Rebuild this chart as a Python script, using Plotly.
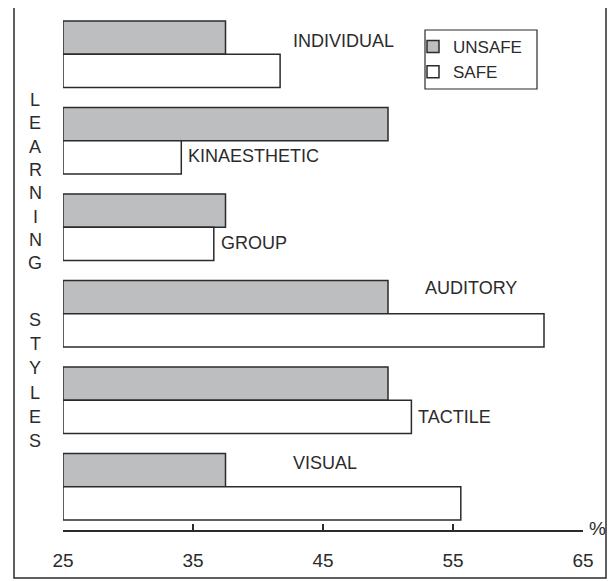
import plotly.graph_objects as go

# ---- data ----
categories = ["INDIVIDUAL", "KINAESTHETIC", "GROUP", "AUDITORY", "TACTILE", "VISUAL"]
unsafe = [37.5, 50.0, 37.5, 50.0, 50.0, 37.5]
safe = [41.7, 34.1, 36.6, 62.0, 51.8, 55.6]
x_ticks = [25, 35, 45, 55, 65]
axis_title_letters = list("LEARNING STYLES")

# ---- layout geometry (page pixels; the page body adds an 8px margin) ----
OFF = 8
PAGE_W, PAGE_H = 616, 581
W, H = PAGE_W - OFF, PAGE_H - OFF
PLOT_L, PLOT_R, PLOT_T, PLOT_B = 63, 583, 11, 530   # page pixel edges of the plot area
ML, MT = PLOT_L - OFF, PLOT_T - OFF
MR, MB = W - (PLOT_R - OFF), H - (PLOT_B - OFF)
PW, PH = PLOT_R - PLOT_L, PLOT_B - PLOT_T
X0, X1 = 25, 65
FONT = "Liberation Sans, Arial, sans-serif"
INK = "#2b2b2b"


def px(xp):
    return (xp - PLOT_L) / PW


def py(yp):
    return (PLOT_B - yp) / PH


fig = go.Figure()
fig.add_trace(go.Bar(
    y=categories, x=[v - X0 for v in unsafe], base=X0, orientation="h",
    name="UNSAFE", marker=dict(color="#bdbec0", line=dict(color=INK, width=1.5)),
))
fig.add_trace(go.Bar(
    y=categories, x=[v - X0 for v in safe], base=X0, orientation="h",
    name="SAFE", marker=dict(color="#ffffff", line=dict(color=INK, width=1.5)),
))

# category labels (x position in data units, pixel shift from group centre)
label_pos = {
    "INDIVIDUAL": (42.5, 0, 13),
    "KINAESTHETIC": (safe[1], 5, -15.5),
    "GROUP": (safe[2], 5, -15.5),
    "AUDITORY": (52.7, 0, 26),
    "TACTILE": (safe[4], 5, -16.5),
    "VISUAL": (42.5, 0, 24),
}
annotations = []
for cat in categories:
    xv, xs, ys = label_pos[cat]
    annotations.append(dict(
        x=xv, y=cat, xref="x", yref="y", text=cat, showarrow=False,
        xanchor="left", yanchor="middle", xshift=xs, yshift=ys,
        font=dict(family=FONT, size=18, color=INK),
    ))

# vertical axis title, one letter per line
for i, ch in enumerate(axis_title_letters):
    if ch == " ":
        continue
    if i < 8:
        yp = 100 + i * 23.3
    else:
        yp = 320 + (i - 9) * 24.2
    annotations.append(dict(
        x=px(35), y=py(yp), xref="paper", yref="paper", text=ch, showarrow=False,
        xanchor="center", yanchor="middle",
        font=dict(family=FONT, size=18, color=INK),
    ))

annotations.append(dict(
    x=px(597), y=py(528), xref="paper", yref="paper", text="%", showarrow=False,
    xanchor="center", yanchor="middle", font=dict(family=FONT, size=19, color=INK),
))

fig.update_layout(
    width=W, height=H,
    margin=dict(l=ML, r=MR, t=MT, b=MB, pad=0),
    paper_bgcolor="white", plot_bgcolor="white",
    barmode="group", bargap=0.23, bargroupgap=0,
    font=dict(family=FONT, color=INK),
    showlegend=True,
    legend=dict(
        x=px(413), y=py(29), xanchor="left", yanchor="top",
        borderwidth=0, bgcolor="rgba(0,0,0,0)",
        font=dict(family=FONT, size=17, color=INK),
        itemwidth=30, tracegroupgap=0,
    ),
    xaxis=dict(
        range=[X0, X1], tickvals=x_ticks, ticktext=[str(t) for t in x_ticks],
        showgrid=False, zeroline=False, showline=True, linecolor=INK, linewidth=1.5,
        ticks="inside", ticklen=6, tickwidth=1.5, tickcolor=INK,
        tickfont=dict(family=FONT, size=19, color=INK), ticklabelstandoff=12,
    ),
    yaxis=dict(
        autorange="reversed", showticklabels=False, showgrid=False,
        zeroline=False, showline=False, ticks="",
    ),
    annotations=annotations,
    shapes=[
        dict(
            type="rect", xref="paper", yref="paper",
            x0=px(14), x1=px(606), y0=py(578), y1=py(5),
            line=dict(color=INK, width=1.5), fillcolor="rgba(0,0,0,0)", layer="above",
        ),
        dict(
            type="rect", xref="paper", yref="paper",
            x0=px(425), x1=px(537), y0=py(89), y1=py(30),
            line=dict(color=INK, width=1.2), fillcolor="rgba(0,0,0,0)", layer="above",
        ),
    ],
)

fig.write_html("out.html")
